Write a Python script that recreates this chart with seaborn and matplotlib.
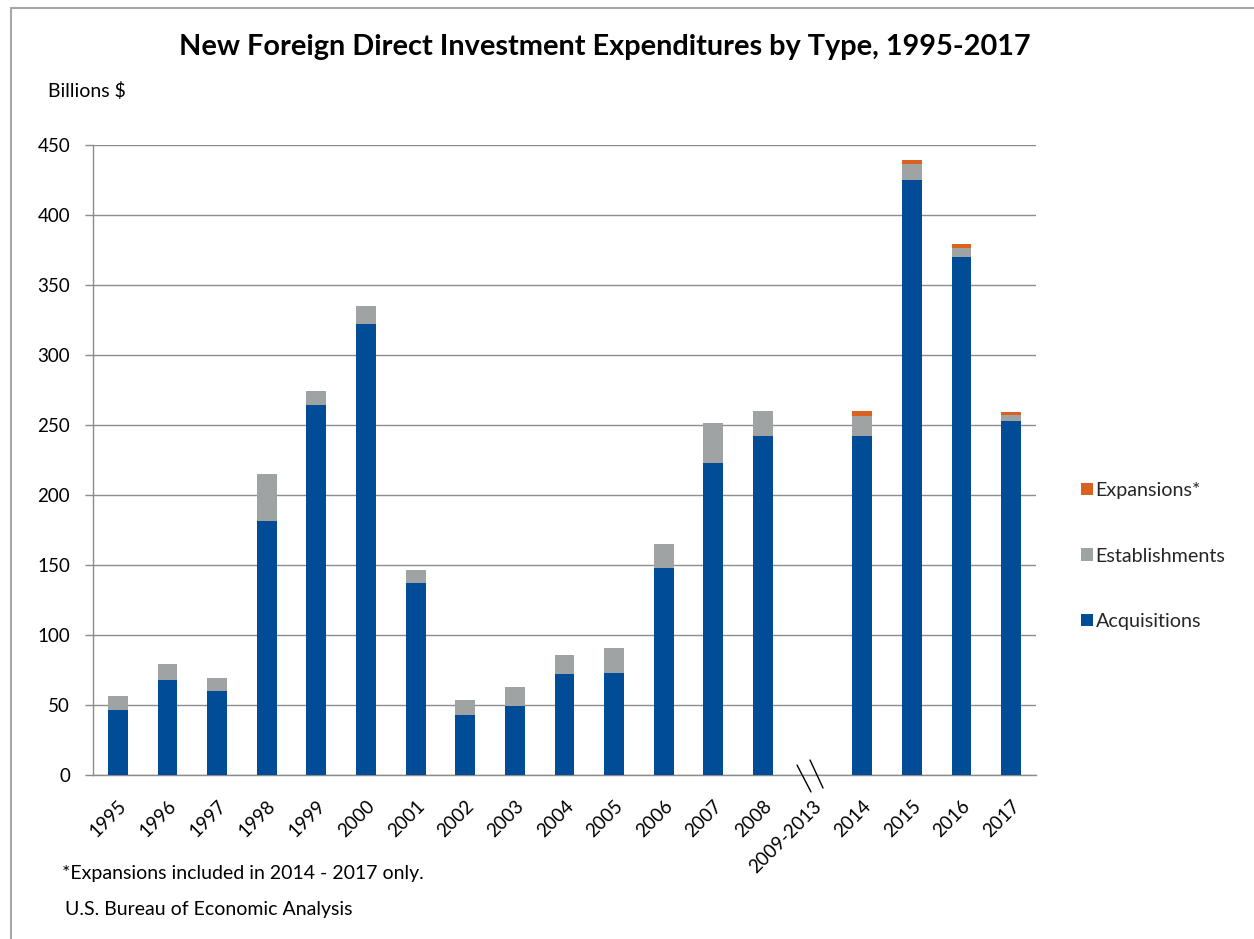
import numpy as np
import pandas as pd
import matplotlib
matplotlib.use("Agg")
import matplotlib.pyplot as plt
from matplotlib.lines import Line2D
from matplotlib.patches import Patch
import seaborn as sns

categories = ['1995', '1996', '1997', '1998', '1999', '2000', '2001', '2002', '2003',
              '2004', '2005', '2006', '2007', '2008', '2009-2013', '2014', '2015',
              '2016', '2017']
acquisitions = [46.3, 67.9, 60.1, 181.5, 264.5, 322.2, 137.4, 42.7, 49.6, 72.1, 73.0,
                147.9, 223.0, 242.3, np.nan, 242.3, 425.3, 370.0, 252.8]
establishments = [9.9, 11.1, 9.0, 33.4, 9.9, 12.9, 9.0, 11.1, 13.5, 13.6, 17.8,
                  17.1, 28.6, 17.7, np.nan, 14.1, 10.8, 6.6, 4.2]
expansions = [0, 0, 0, 0, 0, 0, 0, 0, 0, 0, 0, 0, 0, 0, np.nan, 3.6, 3.0, 2.7, 2.1]
yticks = [0, 50, 100, 150, 200, 250, 300, 350, 400, 450]

C_ACQ = '#004C97'
C_EST = '#A0A3A4'
C_EXP = '#DA6120'

sns.set_theme(style='white')
plt.rcParams['font.family'] = ['Lato', 'DejaVu Sans']

df = pd.DataFrame({'cat': categories, 'acq': acquisitions, 'est': establishments,
                   'exp': expansions})
df['acq_est'] = df['acq'] + df['est']
df['total'] = df['acq_est'] + df['exp']

fig = plt.figure(figsize=(12.54, 9.39), dpi=100)
ax = fig.add_axes([93/1254, 1-775/939, (1036-93)/1254, (775-145)/939])

W = 0.4
sns.barplot(data=df, x='cat', y='total', order=categories, color=C_EXP, width=W,
            saturation=1, ax=ax, errorbar=None, edgecolor='none', zorder=3)
sns.barplot(data=df, x='cat', y='acq_est', order=categories, color=C_EST, width=W,
            saturation=1, ax=ax, errorbar=None, edgecolor='none', zorder=3)
sns.barplot(data=df, x='cat', y='acq', order=categories, color=C_ACQ, width=W,
            saturation=1, ax=ax, errorbar=None, edgecolor='none', zorder=3)

n = len(categories)
ax.set_xlim(-0.5, n - 0.5)
ax.set_ylim(0, 450)
ax.set_yticks(yticks)
ax.set_yticklabels([str(v) for v in yticks], fontsize=13.5, color='#000000')
ax.yaxis.grid(True, color='#8C8C8C', linewidth=1.0, zorder=0)
ax.set_axisbelow(True)
ax.set_xlabel('')
ax.set_ylabel('')

ax.set_xticks(range(n))
ax.set_xticklabels(categories, rotation=45, ha='right', rotation_mode='anchor',
                   fontsize=13.5, color='#000000')
ax.set_xticks(np.arange(-0.5, n, 1.0), minor=True)
ax.tick_params(axis='x', which='major', length=0, pad=16)
ax.tick_params(axis='x', which='minor', length=6, width=1, color='#8C8C8C', direction='out')
ax.tick_params(axis='y', length=6, width=1, color='#8C8C8C', direction='out', pad=10.5, left=True)

for s in ['top', 'right']:
    ax.spines[s].set_visible(False)
for s in ['left', 'bottom']:
    ax.spines[s].set_color('#8C8C8C')
    ax.spines[s].set_linewidth(1.0)

# axis break marks for the 2009-2013 gap
gap = categories.index('2009-2013')
for x0, x1, y0, y1 in [(gap - 0.315, gap - 0.033, 7.1, -12.1),
                       (gap - 0.053, gap + 0.209, 10.7, -9.3)]:
    ax.add_line(Line2D([x0, x1], [y0, y1], color='#000000', linewidth=1.0,
                       clip_on=False, zorder=5))

fig.text(605/1254, 1-47/939, 'New Foreign Direct Investment Expenditures by Type, 1995-2017',
         ha='center', va='center', fontsize=20.8, fontweight='bold', color='#000000')
fig.text(48/1254, 1-91/939, 'Billions $', ha='left', va='center', fontsize=14, color='#000000')
fig.text(62/1254, 1-873/939, '*Expansions included in 2014 - 2017 only.', ha='left',
         va='center', fontsize=14, color='#000000')
fig.text(65/1254, 1-910/939, 'U.S. Bureau of Economic Analysis', ha='left',
         va='center', fontsize=14, color='#000000')

handles = [Patch(facecolor=C_EXP, edgecolor='none'),
           Patch(facecolor=C_EST, edgecolor='none'),
           Patch(facecolor=C_ACQ, edgecolor='none')]
labels = ['Expansions*', 'Establishments', 'Acquisitions']
fig.legend(handles, labels, loc='center left', bbox_to_anchor=(1063/1254, 1-556/939),
           frameon=False, fontsize=14.2, handlelength=0.6, handleheight=0.6,
           handletextpad=0.15, labelspacing=2.45)

# outer frame (top and left edges visible)
fig.add_artist(Line2D([11/1254, 1], [1-8/939, 1-8/939], transform=fig.transFigure,
                      color='#A6A6A6', linewidth=1.5))
fig.add_artist(Line2D([11/1254, 11/1254], [0, 1-8/939], transform=fig.transFigure,
                      color='#A6A6A6', linewidth=1.5))

fig.savefig('out.png', dpi=100)
